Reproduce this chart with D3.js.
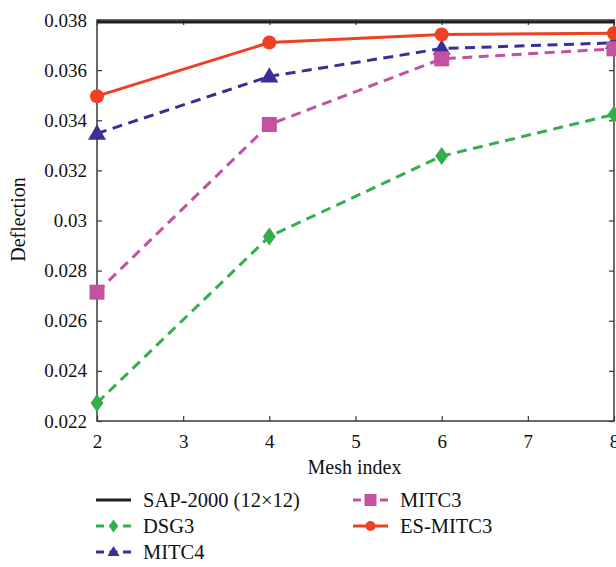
<!DOCTYPE html>
<html>
<head>
<meta charset="utf-8">
<script src="https://cdn.jsdelivr.net/npm/d3@7"></script>
<style>
  body { margin: 0; background: #fff; }
  svg text { font-family: 'Liberation Serif', 'DejaVu Serif', serif !important; }
</style>
</head>
<body>
<div id="chart"></div>
<script>
const meshIndex = [2, 4, 6, 8];
const sap2000 = [0.03792, 0.03792, 0.03792, 0.03792];
const dsg3 = [0.02272, 0.02936, 0.03257, 0.03423];
const mitc4 = [0.03347, 0.03575, 0.03686, 0.03709];
const mitc3 = [0.02714, 0.03383, 0.03645, 0.03685];
const esMitc3 = [0.03496, 0.03710, 0.03742, 0.03747];
const xTicks = [2, 3, 4, 5, 6, 7, 8];
const yTicks = [0.022, 0.024, 0.026, 0.028, 0.03, 0.032, 0.034, 0.036, 0.038];

const series = [
  { name: 'SAP-2000 (12×12)', values: sap2000, color: '#231f20', dash: null, marker: null },
  { name: 'DSG3', values: dsg3, color: '#33b04a', dash: '10,6.5', marker: 'diamond' },
  { name: 'MITC4', values: mitc4, color: '#3a2f96', dash: '10,6.5', marker: 'triangle' },
  { name: 'MITC3', values: mitc3, color: '#c452a0', dash: '10,6.5', marker: 'square' },
  { name: 'ES-MITC3', values: esMitc3, color: '#ee4023', dash: null, marker: 'circle' }
];

const width = 616;
const height = 567;
const margin = { top: 20, right: 2, bottom: 146, left: 97 };
const innerWidth = width - margin.left - margin.right;
const innerHeight = height - margin.top - margin.bottom;

const svg = d3.select('#chart')
  .append('svg')
  .attr('width', width)
  .attr('height', height);

const g = svg.append('g')
  .attr('transform', `translate(${margin.left},${margin.top})`);

const xScale = d3.scaleLinear().domain([2, 8]).range([0, innerWidth]);
const yScale = d3.scaleLinear().domain([0.022, 0.038]).range([innerHeight, 0]);

const axisColor = '#3a3a3a';

function styleAxis(sel, showLabels) {
  sel.select('.domain').remove();
  sel.selectAll('.tick line').attr('stroke', axisColor).attr('stroke-width', 1.2);
  if (showLabels) {
    sel.selectAll('.tick text')
      .style('font-size', '19px')
      .attr('fill', '#111');
  } else {
    sel.selectAll('.tick text').remove();
  }
}

// bottom axis
g.append('g')
  .attr('transform', `translate(0,${innerHeight})`)
  .call(d3.axisBottom(xScale).tickValues(xTicks).tickSize(-5).tickPadding(14).tickFormat(d3.format('d')))
  .call(s => styleAxis(s, true));

// top axis
g.append('g')
  .call(d3.axisTop(xScale).tickValues(xTicks).tickSize(-5))
  .call(s => styleAxis(s, false));

// left axis
g.append('g')
  .call(d3.axisLeft(yScale).tickValues(yTicks).tickSize(-5).tickPadding(10)
    .tickFormat(d => d === 0.03 ? '0.03' : d3.format('.3f')(d)))
  .call(s => styleAxis(s, true));

// right axis
g.append('g')
  .attr('transform', `translate(${innerWidth},0)`)
  .call(d3.axisRight(yScale).tickValues(yTicks).tickSize(-5))
  .call(s => styleAxis(s, false));

// frame
g.append('rect')
  .attr('width', innerWidth)
  .attr('height', innerHeight)
  .attr('fill', 'none')
  .attr('stroke', axisColor)
  .attr('stroke-width', 1.5);

function drawMarker(sel, type, color, size) {
  if (!type) return;
  if (type === 'diamond') {
    const w = size * 0.72, h = size;
    sel.append('path')
      .attr('d', `M0,${-h / 2}L${w / 2},0L0,${h / 2}L${-w / 2},0Z`)
      .attr('fill', color);
  } else if (type === 'triangle') {
    const h = size * 0.85;
    sel.append('path')
      .attr('d', `M0,${-h * 0.6}L${size / 2},${h * 0.4}L${-size / 2},${h * 0.4}Z`)
      .attr('fill', color);
  } else if (type === 'square') {
    sel.append('rect')
      .attr('x', -size / 2).attr('y', -size / 2)
      .attr('width', size).attr('height', size)
      .attr('fill', color);
  } else {
    sel.append('circle')
      .attr('r', size / 2)
      .attr('fill', color);
  }
}

const line = d3.line()
  .x((d, i) => xScale(meshIndex[i]))
  .y(d => yScale(d));

const markerSize = { circle: 14, square: 15, triangle: 18, diamond: 18 };

series.forEach(s => {
  g.append('path')
    .datum(s.values)
    .attr('d', line)
    .attr('fill', 'none')
    .attr('stroke', s.color)
    .attr('stroke-width', 3)
    .attr('stroke-dasharray', s.dash);

  if (s.marker) {
    s.values.forEach((v, i) => {
      const m = g.append('g')
        .attr('transform', `translate(${xScale(meshIndex[i])},${yScale(v)})`);
      drawMarker(m, s.marker, s.color, markerSize[s.marker]);
    });
  }
});

// axis labels
g.append('text')
  .attr('x', innerWidth / 2 - 1)
  .attr('y', innerHeight + 53)
  .attr('text-anchor', 'middle')
  .style('font-size', '20px')
  .attr('fill', '#111')
  .text('Mesh index');

g.append('text')
  .attr('transform', 'rotate(-90)')
  .attr('x', -innerHeight / 2 + 1)
  .attr('y', -72)
  .attr('text-anchor', 'middle')
  .style('font-size', '20px')
  .attr('fill', '#111')
  .text('Deflection');

// legend
const legendPos = [
  { x: 96, y: 500 }, { x: 96, y: 526 }, { x: 96, y: 552 },
  { x: 353, y: 500 }, { x: 353, y: 526 }
];
const legendMarkerSize = { circle: 10, square: 12, triangle: 12, diamond: 13 };

series.forEach((s, i) => {
  const item = svg.append('g')
    .attr('transform', `translate(${legendPos[i].x},${legendPos[i].y})`);
  item.append('line')
    .attr('x1', 0).attr('x2', 35)
    .attr('stroke', s.color)
    .attr('stroke-width', 3)
    .attr('stroke-dasharray', s.dash ? '8,5.5' : null);
  if (s.marker) {
    const m = item.append('g').attr('transform', 'translate(17.5,0)');
    drawMarker(m, s.marker, s.color, legendMarkerSize[s.marker]);
  }
  item.append('text')
    .attr('x', 47)
    .attr('y', 6.5)
    .style('font-size', '20.5px')
    .attr('fill', '#111')
    .text(s.name);
});
</script>
</body>
</html>
